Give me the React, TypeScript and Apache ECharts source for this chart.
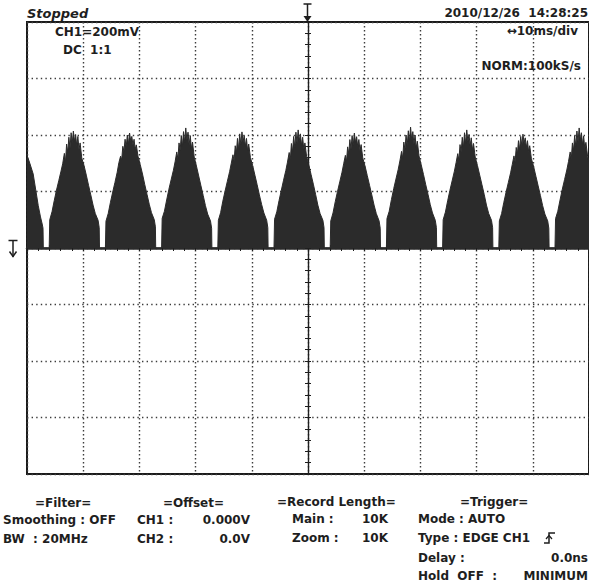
import React, { useEffect, useRef } from "react";
import * as echarts from "echarts";

// ---- axes (oscilloscope screen: 10 ms/div, 200 mV/div) ----
const timeMinMs = -50;
const timeMaxMs = 50;
const timeDivMs = 10;
const voltMinMv = -800;
const voltMaxMv = 800;
const voltDivMv = 200;

// ---- waveform ----
const leftPartialHump: [number, number][] = [
  [-50, 329], [-49.5, 300], [-48.9, 262], [-48.4, 200], [-48.0, 150],
  [-47.6, 110], [-47.3, 85], [-47.15, 70], [-47.1, 0],
];
const zeroCrossingsMs = [-46.55, -36.55, -26.55, -16.55, -6.55, 3.45, 13.45, 23.45, 33.45, 43.45];
const humpOffsetsMs = [
  0.5, 0.6, 1.0, 1.4, 1.8, 2.2, 2.6, 2.9, 3.2, 3.4, 3.6, 3.8, 4.0, 4.2, 4.4, 4.6, 4.8,
  5.0, 5.2, 5.4, 5.6, 5.8, 6.0, 6.3, 6.7, 7.1, 7.5, 7.9, 8.3, 8.7, 9.2, 9.4, 9.45,
];
const humpValuesMv: number[][] = [
  [0, 100, 128, 168, 205, 238, 272, 298, 335, 305, 368, 338, 392, 352, 408, 372, 414, 378, 402, 362, 395, 348, 372, 318, 292, 258, 222, 188, 152, 122, 98, 72, 0],
  [0, 95, 122, 162, 198, 232, 268, 302, 325, 312, 360, 342, 385, 358, 400, 368, 407, 380, 395, 365, 385, 350, 365, 325, 295, 262, 225, 190, 155, 125, 100, 75, 0],
  [0, 105, 130, 170, 208, 242, 275, 305, 340, 315, 372, 345, 398, 360, 412, 375, 425, 382, 410, 365, 398, 352, 375, 322, 290, 255, 220, 186, 150, 120, 96, 70, 0],
  [0, 98, 125, 166, 202, 236, 270, 300, 330, 308, 362, 336, 388, 350, 404, 366, 411, 376, 398, 360, 388, 346, 368, 320, 292, 258, 224, 188, 154, 124, 98, 72, 0],
  [0, 102, 128, 168, 204, 240, 274, 304, 338, 312, 370, 340, 395, 356, 410, 372, 418, 380, 404, 364, 392, 350, 372, 324, 294, 260, 226, 190, 152, 122, 98, 72, 0],
  [0, 96, 124, 164, 200, 234, 268, 298, 328, 306, 358, 334, 384, 350, 398, 364, 407, 374, 394, 358, 384, 344, 366, 318, 290, 256, 222, 188, 152, 122, 96, 70, 0],
  [0, 104, 130, 172, 210, 244, 278, 308, 342, 318, 375, 348, 400, 362, 415, 378, 428, 384, 412, 368, 400, 354, 378, 326, 294, 260, 224, 190, 154, 124, 98, 72, 0],
  [0, 100, 127, 167, 204, 238, 272, 302, 334, 310, 366, 340, 392, 355, 408, 370, 418, 378, 402, 362, 390, 348, 370, 322, 292, 258, 224, 190, 152, 122, 98, 72, 0],
  [0, 96, 122, 162, 198, 232, 266, 296, 326, 304, 356, 332, 380, 348, 395, 362, 403, 372, 390, 356, 380, 342, 362, 316, 288, 254, 220, 186, 150, 120, 96, 70, 0],
  [0, 104, 130, 170, 208, 242, 276, 306, 340, 316, 372, 346, 398, 360, 414, 376, 425, 382, 408, 366, 396, 352, 374, 324],
];
const rightEdgePoint: [number, number] = [50, 305];

// ---- screen texts ----
const statusText = "Stopped";
const dateText = "2010/12/26  14:28:25";
const chText = "CH1=200mV";
const couplingText = "DC  1:1";
const timebaseText = "\u219410ms/div";
const sampleText = "NORM:100kS/s";

const FONT = 'bold 12px "DejaVu Sans"';
const INK = "#1e1e1e";

function buildTrace(): [number, number][] {
  const trace: [number, number][] = [...leftPartialHump];
  zeroCrossingsMs.forEach((z, i) => {
    humpValuesMv[i].forEach((v, j) => {
      trace.push([Math.round((z + humpOffsetsMs[j]) * 100) / 100, v]);
    });
  });
  trace.push(rightEdgePoint);
  return trace;
}

function txt(text: string, x: number, y: number, align: string = "left", font: string = FONT) {
  return {
    type: "text",
    x,
    y,
    silent: true,
    z: 10,
    style: {
      text,
      fill: INK,
      font,
      align,
      textAlign: align,
      verticalAlign: "middle",
      textVerticalAlign: "middle",
    },
  };
}

function ln(x1: number, y1: number, x2: number, y2: number, w = 1.5) {
  return {
    type: "line",
    silent: true,
    z: 10,
    shape: { x1, y1, x2, y2 },
    style: { stroke: INK, lineWidth: w },
  };
}

export default function App() {
  const ref = useRef<HTMLDivElement>(null);

  useEffect(() => {
    if (!ref.current) return;
    const chart = echarts.init(ref.current, undefined, { renderer: "svg" });

    const dotted = (dash: number[]) => ({
      show: true,
      lineStyle: { color: "#3c3c3c", width: 1.4, type: dash },
    });

    const xBase = {
      type: "value",
      min: timeMinMs,
      max: timeMaxMs,
      interval: timeDivMs,
      axisLabel: { show: false },
      axisTick: { show: true, inside: false, length: 3, lineStyle: { color: INK, width: 1 } },
      minorTick: { show: true, splitNumber: 5, length: 3, lineStyle: { color: INK, width: 1 } },
    };
    const yBase = {
      type: "value",
      min: voltMinMv,
      max: voltMaxMv,
      interval: voltDivMv,
      axisLabel: { show: false },
      axisTick: { show: true, inside: false, length: 3, lineStyle: { color: INK, width: 1 } },
      minorTick: { show: true, splitNumber: 5, length: 3, lineStyle: { color: INK, width: 1 } },
    };

    chart.setOption({
      animation: false,
      backgroundColor: "#ffffff",
      grid: {
        left: 27,
        top: 22,
        width: 565,
        height: 452,
        show: true,
        borderColor: "#1a1a1a",
        borderWidth: 2,
        backgroundColor: "transparent",
      },
      xAxis: [
        {
          ...xBase,
          position: "bottom",
          axisLine: { show: true, onZero: true, onZeroAxisIndex: 0, lineStyle: { color: "#2a2a2a", width: 2.5 } },
          splitLine: dotted([1.4, 2.6]),
        },
        {
          ...xBase,
          position: "top",
          axisLine: { show: true, onZero: true, onZeroAxisIndex: 0, lineStyle: { color: "#2a2a2a", width: 1 } },
          splitLine: { show: false },
        },
      ],
      yAxis: [
        {
          ...yBase,
          position: "left",
          axisLine: { show: true, onZero: true, onZeroAxisIndex: 0, lineStyle: { color: INK, width: 1.2 } },
          splitLine: dotted([1.4, 3.2]),
        },
        {
          ...yBase,
          position: "right",
          axisLine: { show: true, onZero: true, onZeroAxisIndex: 0, lineStyle: { color: INK, width: 1.2 } },
          splitLine: { show: false },
        },
      ],
      series: [
        {
          type: "line",
          data: buildTrace(),
          xAxisIndex: 0,
          yAxisIndex: 0,
          showSymbol: false,
          symbol: "none",
          silent: true,
          lineStyle: { color: "#2b2b2b", width: 1 },
          areaStyle: { color: "#2b2b2b", opacity: 1 },
          z: 3,
        },
      ],
      graphic: [
        txt(statusText, 27, 13, "left", 'italic bold 13px "DejaVu Sans"'),
        txt(dateText, 588, 13, "right"),
        txt(chText, 55, 32, "left"),
        txt(couplingText, 63, 50, "left"),
        txt(timebaseText, 578, 31, "right"),
        txt(sampleText, 581, 66, "right"),

        txt("=Filter=", 35, 503),
        txt("Smoothing : OFF", 3, 520),
        txt("BW  : 20MHz", 3, 539),

        txt("=Offset=", 163, 503),
        txt("CH1 :", 137, 520),
        txt("0.000V", 250, 520, "right"),
        txt("CH2 :", 137, 539),
        txt("0.0V", 250, 539, "right"),

        txt("=Record Length=", 277, 502),
        txt("Main :", 292, 519),
        txt("10K", 388, 519, "right"),
        txt("Zoom :", 292, 538),
        txt("10K", 388, 538, "right"),

        txt("=Trigger=", 460, 502),
        txt("Mode : AUTO", 418, 519),
        txt("Type : EDGE CH1", 418, 538),
        txt("Delay :", 418, 558),
        txt("0.0ns", 588, 558, "right"),
        txt("Hold  OFF  :", 418, 576),
        txt("MINIMUM", 588, 576, "right"),

        // trigger slope icon
        {
          type: "polyline",
          silent: true,
          z: 10,
          shape: { points: [[544, 543], [549, 543], [549, 533], [555, 533]] },
          style: { stroke: INK, lineWidth: 1.5, fill: "none" },
        },
        {
          type: "polyline",
          silent: true,
          z: 10,
          shape: { points: [[546, 539], [549, 535.5], [552, 539]] },
          style: { stroke: INK, lineWidth: 1.2, fill: "none" },
        },

        // trigger position marker (top centre)
        ln(303.5, 4, 311.5, 4, 1.5),
        ln(307.5, 4, 307.5, 19, 1.5),
        {
          type: "polygon",
          silent: true,
          z: 10,
          shape: { points: [[303.5, 16], [311.5, 16], [307.5, 22]] },
          style: { fill: INK },
        },

        // ground reference marker (left)
        ln(8.5, 240.5, 17.5, 240.5, 1.5),
        ln(13, 240.5, 13, 257, 1.5),
        {
          type: "polyline",
          silent: true,
          z: 10,
          shape: { points: [[9.5, 251.5], [13, 256.5], [16.5, 251.5]] },
          style: { stroke: INK, lineWidth: 1.5, fill: "none" },
        },
      ],
    });

    return () => chart.dispose();
  }, []);

  return (
    <div
      ref={ref}
      style={{ position: "absolute", left: 0, top: 0, width: 589, height: 584, background: "#fff" }}
    />
  );
}
